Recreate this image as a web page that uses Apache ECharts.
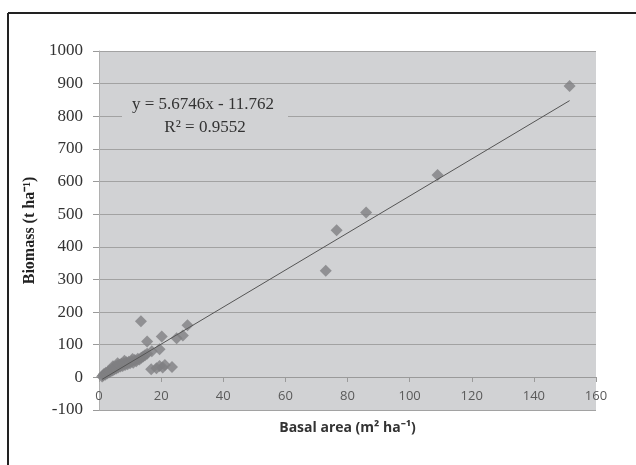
<!DOCTYPE html>
<html>
<head>
    <meta charset="utf-8">
    <title>Biomass vs basal area</title>
    <script src="https://cdn.jsdelivr.net/npm/echarts@6/dist/echarts.min.js"></script>
    <style>
        html, body { margin: 0; padding: 0; background: #fff; }
    </style>
</head>
<body>
<div id="main" style="width: 636px;height:465px;"></div>
<script type="text/javascript">
    // basal area (m2/ha) and biomass (t/ha)
    var basalArea = [
        1.0, 1.3, 1.6, 2.0, 2.2, 2.6, 2.9, 3.2, 3.5, 3.8,
        4.1, 4.4, 4.7, 5.0, 5.3, 5.6, 5.9, 6.2, 6.5, 6.9,
        7.2, 7.6, 8.0, 8.4, 8.8, 9.2, 9.6, 10.0, 10.5, 11.0,
        11.5, 12.0, 12.5, 13.0, 13.6, 14.2, 14.8, 15.5, 17.0, 19.5,
        4.5, 6.0, 8.2, 10.8,
        13.5, 15.5, 20.2, 25.0, 27.0, 28.5,
        16.8, 18.5, 19.5, 20.5, 21.2, 23.5,
        73.0, 76.5, 86.0, 109.0, 151.5
    ];
    var biomass = [
        3, 6, 10, 8, 14, 12, 18, 15, 22, 19,
        26, 21, 29, 25, 33, 27, 36, 30, 39, 33,
        42, 35, 44, 38, 46, 40, 48, 43, 50, 45,
        53, 49, 57, 55, 60, 64, 68, 72, 80, 86,
        34, 43, 51, 56,
        172, 110, 125, 120, 128, 160,
        25, 28, 35, 30, 38, 32,
        327, 451, 505, 620, 893
    ];
    var xTicks = [0, 160, 20];      // min, max, step
    var yTicks = [-100, 1000, 100];

    // linear trend line as printed on the chart
    var slope = 5.6746;
    var intercept = -11.762;
    var rSquared = 0.9552;

    var points = basalArea.map(function (x, i) { return [x, biomass[i]]; });
    var xMin = Math.min.apply(null, basalArea);
    var xMax = Math.max.apply(null, basalArea);
    var trend = [[xMin, slope * xMin + intercept], [xMax, slope * xMax + intercept]];

    var myChart = echarts.init(document.getElementById('main'));

    var option = {
        animation: false,
        backgroundColor: '#ffffff',
        grid: {
            left: 99, right: 40, top: 51, bottom: 55,
            show: true,
            backgroundColor: '#d1d2d4',
            borderWidth: 0
        },
        xAxis: {
            type: 'value',
            min: xTicks[0], max: xTicks[1], interval: xTicks[2],
            // axis sits on the zero line, one step above the bottom
            offset: -33,
            name: 'Basal area (m\u00b2 ha\u207b\u00b9)',
            nameLocation: 'middle',
            nameGap: 44,
            nameTextStyle: {
                fontFamily: 'Open Sans', fontWeight: 'bold', fontSize: 14, color: '#333'
            },
            axisLine: { onZero: false, lineStyle: { color: '#9a9a9a', width: 1 } },
            axisTick: { show: true, length: 5, lineStyle: { color: '#9a9a9a' } },
            axisLabel: {
                margin: 13,
                fontFamily: 'Open Sans', fontSize: 13, color: '#5a5a5a'
            },
            splitLine: { show: false }
        },
        yAxis: {
            type: 'value',
            min: yTicks[0], max: yTicks[1], interval: yTicks[2],
            name: 'Biomass (t ha\u207b\u00b9)',
            nameLocation: 'middle',
            nameGap: 52,
            nameTextStyle: {
                fontFamily: 'Liberation Serif', fontWeight: 'bold', fontSize: 16, color: '#222'
            },
            axisLine: { show: true, lineStyle: { color: '#b0b0b0', width: 1 } },
            axisTick: { show: true, length: 6, lineStyle: { color: '#9a9a9a' } },
            axisLabel: {
                margin: 16,
                fontFamily: 'Liberation Serif', fontSize: 17, color: '#333',
                formatter: function (v) { return String(v); }
            },
            splitLine: { show: true, lineStyle: { color: '#a2a2a2', width: 1 } }
        },
        graphic: [
            // outer frame of the figure
            { type: 'line', shape: { x1: 8, y1: 13, x2: 636, y2: 13 }, style: { stroke: '#222', lineWidth: 2 } },
            { type: 'line', shape: { x1: 8, y1: 13, x2: 8, y2: 465 }, style: { stroke: '#222', lineWidth: 2 } },
            // equation box
            { type: 'rect', shape: { x: 122, y: 94, width: 166, height: 46 }, style: { fill: '#d1d2d4' }, z: 10 },
            {
                type: 'text', x: 203, y: 105, z: 11,
                style: {
                    text: 'y = ' + slope + 'x - ' + Math.abs(intercept),
                    font: '17px "Liberation Serif"', fill: '#333',
                    textAlign: 'center', textVerticalAlign: 'middle'
                }
            },
            {
                type: 'text', x: 205, y: 128, z: 11,
                style: {
                    text: 'R\u00b2 = ' + rSquared,
                    font: '17px "Liberation Serif"', fill: '#333',
                    textAlign: 'center', textVerticalAlign: 'middle'
                }
            }
        ],
        series: [
            {
                name: 'biomass',
                type: 'scatter',
                symbol: 'diamond',
                symbolSize: 12,
                itemStyle: { color: '#808082' },
                data: points,
                z: 3
            },
            {
                name: 'trend',
                type: 'line',
                showSymbol: false,
                lineStyle: { color: '#555', width: 1 },
                data: trend,
                z: 4
            }
        ]
    };

    myChart.setOption(option);
</script>
</body>
</html>
